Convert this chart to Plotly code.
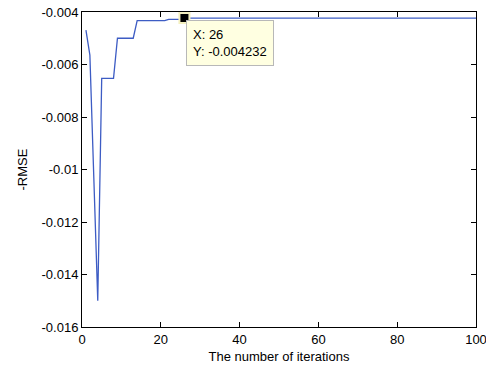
import plotly.graph_objects as go

iterations = list(range(1, 101))
# -RMSE per iteration
neg_rmse = ([-0.00469, -0.00564, -0.01032, -0.01500]
            + [-0.00653] * 4
            + [-0.00500] * 5
            + [-0.00433] * 8
            + [-0.00428] * 4
            + [-0.004232] * 75)

tip_x = 26
tip_y = -0.004232

y_ticks = [-0.016, -0.014, -0.012, -0.01, -0.008, -0.006, -0.004]
y_tick_text = ["-0.016", "-0.014", "-0.012", "-0.01", "-0.008", "-0.006", "-0.004"]
x_ticks = [0, 20, 40, 60, 80, 100]

FONT = "Liberation Sans, Arial"

fig = go.Figure()
fig.add_trace(go.Scatter(x=iterations, y=neg_rmse, mode="lines",
                         line=dict(color="#3d5cc4", width=1.3),
                         hoverinfo="skip", showlegend=False))
fig.add_trace(go.Scatter(x=[tip_x], y=[tip_y], mode="markers",
                         marker=dict(symbol="square", size=10, color="black",
                                     line=dict(color="#f4f0c0", width=2)),
                         hoverinfo="skip", showlegend=False, cliponaxis=False))
fig.add_annotation(x=tip_x, y=tip_y, xref="x", yref="y",
                   text=f"X: {tip_x}<br>Y: {tip_y}",
                   showarrow=False, xanchor="left", yanchor="top",
                   xshift=2, yshift=-2, align="left",
                   bgcolor="#ffffe1", bordercolor="#b8b8b8", borderwidth=1,
                   borderpad=6,
                   font=dict(family=FONT, size=13, color="black"))

axis_common = dict(showgrid=False, zeroline=False, showline=True, linecolor="black",
                   linewidth=1, mirror="ticks", ticks="inside", ticklen=5,
                   tickcolor="black", automargin=False, ticklabeloverflow="allow",
                   tickfont=dict(family=FONT, size=13, color="black"))

fig.update_xaxes(range=[0, 100], tickvals=x_ticks,
                 title=dict(text="The number of iterations", standoff=6,
                            font=dict(family=FONT, size=13, color="black")),
                 **axis_common)
fig.update_yaxes(range=[-0.016, -0.004], tickvals=y_ticks, ticktext=y_tick_text,
                 title=dict(text="-RMSE", standoff=10,
                            font=dict(family=FONT, size=13, color="black")),
                 **axis_common)

fig.update_layout(width=486, height=374,
                  margin=dict(l=82, r=10, t=12, b=47),
                  plot_bgcolor="white", paper_bgcolor="white")

fig.write_html("out.html", config={"displayModeBar": False},
               post_script="document.body.style.margin='0';document.body.style.overflow='hidden';")
